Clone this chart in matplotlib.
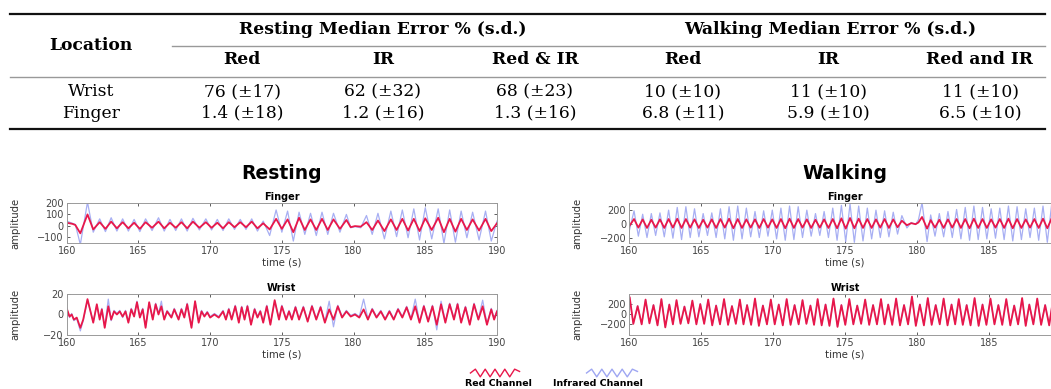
import matplotlib
matplotlib.use("Agg")
import matplotlib.pyplot as plt
from matplotlib.lines import Line2D

# ---------------- table data ----------------
table_groups = ["Resting Median Error % (s.d.)", "Walking Median Error % (s.d.)"]
table_cols = ["Red", "IR", "Red & IR", "Red", "IR", "Red and IR"]
table_rows = ["Wrist", "Finger"]
wrist_vals = ["76 (±17)", "62 (±32)", "68 (±23)", "10 (±10)", "11 (±10)", "11 (±10)"]
finger_vals = ["1.4 (±18)", "1.2 (±16)", "1.3 (±16)", "6.8 (±11)", "5.9 (±10)", "6.5 (±10)"]

# ---------------- signal data (extrema) ----------------
# Resting, finger
t_rf = [160.0, 160.4, 160.6, 160.95, 161.45, 161.85, 162.3, 162.7, 163.1, 163.5, 163.9, 164.3,
        164.7, 165.1, 165.5, 165.95, 166.4, 166.8, 167.2, 167.6, 168.0, 168.4, 168.8, 169.25,
        169.7, 170.1, 170.5, 170.9, 171.3, 171.7, 172.1, 172.5, 172.9, 173.3, 173.7, 174.15,
        174.6, 175.0, 175.4, 175.8, 176.2, 176.6, 177.0, 177.4, 177.8, 178.2, 178.6, 179.05,
        179.5, 179.8, 180.1, 180.5, 180.9, 181.3, 181.7, 182.15, 182.6, 183.0, 183.4, 183.8,
        184.2, 184.6, 185.0, 185.45, 185.9, 186.3, 186.7, 187.1, 187.5, 187.9, 188.3, 188.75,
        189.2, 189.6, 190.0]
red_rf = [25, 15, 5, -70, 100, -35, 30, -30, 35, -25, 30, -25,
          25, -30, 30, -20, 35, -25, 25, -20, 30, -25, 35, -20,
          30, -20, 25, -25, 30, -15, 30, -15, 35, -25, 20, -35,
          60, -30, 55, -60, 70, -40, 55, -40, 60, -40, 55, -30,
          50, -15, -5, -10, 30, -40, 45, -50, 55, -40, 60, -45,
          60, -50, 65, -40, 70, -60, 60, -55, 60, -40, 55, -45,
          60, -50, 20]
ir_rf = [40, 20, 10, -170, 210, -60, 60, -55, 70, -50, 60, -50,
         55, -55, 60, -45, 70, -50, 55, -45, 60, -50, 65, -40,
         60, -40, 55, -45, 60, -35, 55, -35, 60, -50, 40, -90,
         140, -60, 130, -140, 120, -80, 110, -90, 120, -80, 110, -60,
         100, -20, -10, -20, 90, -80, 110, -120, 130, -100, 140, -110,
         150, -130, 160, -120, 150, -160, 140, -150, 130, -110, 120, -130,
         130, -140, 40]

# Resting, wrist
t_rw = [160.0, 160.2, 160.35, 160.5, 160.7, 160.95, 161.15, 161.45, 161.85, 162.1, 162.3, 162.45,
        162.65, 162.9, 163.1, 163.3, 163.5, 163.7, 163.9, 164.1, 164.3, 164.5, 164.7, 164.9,
        165.1, 165.3, 165.5, 165.75, 166.0, 166.2, 166.4, 166.6, 166.8, 167.0, 167.3, 167.5,
        167.8, 168.0, 168.2, 168.4, 168.7, 168.95, 169.2, 169.4, 169.6, 169.8, 170.0, 170.3,
        170.6, 170.9, 171.1, 171.3, 171.5, 171.75, 172.0, 172.2, 172.4, 172.6, 172.85, 173.1,
        173.3, 173.5, 173.7, 173.95, 174.2, 174.5, 174.8, 175.0, 175.3, 175.5, 175.7, 175.95,
        176.2, 176.5, 176.8, 177.1, 177.4, 177.7, 178.0, 178.3, 178.6, 178.9, 179.2, 179.5,
        179.8, 180.1, 180.4, 180.7, 181.0, 181.3, 181.6, 181.9, 182.2, 182.5, 182.8, 183.1,
        183.4, 183.7, 184.0, 184.3, 184.6, 184.9, 185.2, 185.5, 185.8, 186.1, 186.4, 186.7,
        187.0, 187.25, 187.5, 187.8, 188.1, 188.4, 188.7, 189.0, 189.3, 189.6, 189.8, 190.0]
red_rw = [6, -2, 0, -5, -3, -13, -5, 15, -8, 10, -5, 5,
          -13, 8, -5, 3, 0, 3, -2, 3, -8, 5, -2, 12,
          -3, 5, -13, 12, -5, 10, 0, 8, -5, 3, -3, 5,
          -5, 5, -3, 10, -13, 13, -8, 3, -2, 2, -3, 0,
          -3, 3, -5, 5, -5, 8, -8, 7, -5, 8, -10, 5,
          -3, 3, -8, 8, -10, 14, -5, 8, -5, 3, -5, 7,
          -5, 7, -7, 8, -5, 7, -8, 5, -5, 8, -3, 3,
          -2, 0, -3, 5, -5, 5, -3, 3, -5, 3, -5, 5,
          -3, 7, -5, 8, -8, 8, -7, 8, -10, 10, -8, 10,
          -5, 10, -8, 7, -10, 10, -5, 8, -10, 5, -5, 3]
ir_rw = [6, -3, 1, -6, -4, -16, -6, 14, -7, 9, -4, 6,
         -12, 15, -6, 4, 1, 4, -3, 4, -7, 6, -1, 13,
         -2, 6, -12, 11, -4, 11, 1, 13, -4, 4, -2, 6,
         -4, 6, -2, 11, -12, 12, -7, 4, -1, 3, -2, 1,
         -2, 4, -4, 6, -4, 9, -7, 8, -4, 9, -9, 6,
         -2, 4, -7, 9, -9, 13, -4, 9, -4, 4, -4, 8,
         -4, 8, -6, 9, -4, 8, -7, 13, -12, 9, -2, 4,
         -1, 1, -2, 15, -4, 6, -2, 4, -4, 4, -4, 6,
         -2, 8, -4, 15, -7, 9, -6, 9, -15, 13, -7, 11,
         -4, 11, -7, 8, -9, 11, -4, 14, -9, 6, -4, 4]

# Walking, finger
t_wf = [160.0, 160.35, 160.65, 160.95, 161.25, 161.55, 161.85, 162.15, 162.45, 162.75, 163.05, 163.35,
        163.65, 163.95, 164.25, 164.55, 164.85, 165.15, 165.45, 165.75, 166.05, 166.35, 166.65, 166.95,
        167.25, 167.55, 167.85, 168.15, 168.45, 168.75, 169.05, 169.35, 169.65, 169.95, 170.25, 170.55,
        170.85, 171.15, 171.45, 171.75, 172.05, 172.35, 172.65, 172.95, 173.25, 173.55, 173.85, 174.15,
        174.45, 174.75, 175.05, 175.35, 175.65, 175.95, 176.25, 176.55, 176.85, 177.15, 177.45, 177.75,
        178.05, 178.35, 178.65, 178.95, 179.3, 179.6, 179.9, 180.1, 180.35, 180.7, 180.95, 181.25,
        181.55, 181.85, 182.15, 182.45, 182.75, 183.05, 183.35, 183.65, 183.95, 184.25, 184.55, 184.85,
        185.15, 185.45, 185.75, 186.05, 186.35, 186.65, 186.95, 187.25, 187.55, 187.85, 188.15, 188.45,
        188.75, 189.05, 189.35, 189.65, 189.95]
red_wf = [-40, 70, -55, 65, -60, 60, -55, 65, -60, 70, -55, 75,
          -60, 70, -55, 65, -60, 60, -55, 65, -60, 70, -55, 75,
          -65, 70, -60, 65, -55, 65, -60, 70, -55, 65, -60, 70,
          -65, 75, -60, 70, -55, 65, -60, 60, -55, 65, -60, 70,
          -65, 80, -70, 85, -65, 75, -60, 70, -60, 65, -55, 70,
          -60, 65, -50, 45, -20, 10, -5, 20, 100, -70, 55, -55,
          60, -60, 65, -55, 70, -60, 70, -65, 75, -60, 70, -60,
          65, -55, 70, -60, 75, -65, 70, -60, 65, -55, 70, -60,
          75, -65, 80, -60, 70]
ir_wf = [-120, 190, -180, 140, -200, 150, -170, 160, -190, 200, -210, 240,
         -230, 250, -200, 220, -190, 150, -170, 160, -200, 220, -220, 250,
         -240, 260, -220, 230, -190, 180, -200, 190, -180, 200, -220, 230,
         -240, 260, -230, 250, -200, 200, -180, 150, -170, 180, -200, 230,
         -240, 270, -260, 290, -270, 260, -250, 230, -220, 200, -200, 190,
         -190, 170, -150, 120, -60, 20, -10, 60, 310, -260, 130, -180,
         150, -190, 180, -200, 210, -220, 240, -240, 260, -230, 240, -220,
         220, -210, 230, -230, 260, -250, 250, -230, 220, -200, 230, -240,
         260, -270, 280, -250, 240]

# Walking, wrist
t_ww = [160.05, 160.3, 160.6, 160.88, 161.15, 161.42, 161.7, 161.98, 162.25, 162.52, 162.8, 163.05,
        163.3, 163.58, 163.85, 164.12, 164.4, 164.68, 164.95, 165.22, 165.5, 165.78, 166.05, 166.32,
        166.6, 166.88, 167.15, 167.42, 167.7, 167.95, 168.2, 168.48, 168.75, 169.02, 169.3, 169.58,
        169.85, 170.12, 170.4, 170.68, 170.95, 171.22, 171.5, 171.78, 172.05, 172.32, 172.6, 172.85,
        173.1, 173.38, 173.65, 173.92, 174.2, 174.48, 174.75, 175.02, 175.3, 175.58, 175.85, 176.12,
        176.4, 176.68, 176.95, 177.22, 177.5, 177.75, 178.0, 178.28, 178.55, 178.82, 179.1, 179.38,
        179.65, 179.92, 180.2, 180.48, 180.75, 181.02, 181.3, 181.58, 181.85, 182.12, 182.4, 182.65,
        182.9, 183.18, 183.45, 183.72, 184.0, 184.28, 184.55, 184.82, 185.1, 185.38, 185.65, 185.92,
        186.2, 186.48, 186.75, 187.02, 187.3, 187.55, 187.8, 188.08, 188.35, 188.62, 188.9, 189.18,
        189.45, 189.72, 190.0]
red_ww = [330, -190, 160, -200, 290, -180, 180, -220, 300, -260, 190, -200,
          280, -190, 150, -180, 270, -200, 200, -190, 290, -220, 170, -200,
          300, -210, 160, -190, 290, -200, 180, -210, 310, -230, 170, -200,
          290, -200, 190, -220, 300, -210, 180, -200, 280, -190, 170, -210,
          300, -220, 190, -230, 310, -250, 180, -210, 300, -200, 170, -190,
          290, -210, 180, -200, 300, -200, 190, -210, 310, -220, 180, -200,
          350, -230, 190, -220, 320, -210, 180, -200, 310, -220, 190, -200,
          300, -210, 180, -220, 320, -230, 190, -210, 310, -200, 180, -210,
          300, -220, 170, -200, 320, -230, 190, -200, 310, -210, 180, -220,
          300, -200, 280]
ir_ww = [320, -180, 170, -190, 280, -170, 190, -210, 290, -250, 200, -190,
         270, -180, 160, -170, 260, -190, 210, -180, 280, -210, 180, -190,
         290, -200, 170, -180, 280, -190, 190, -200, 300, -220, 180, -190,
         280, -190, 200, -210, 290, -200, 190, -190, 270, -180, 180, -200,
         290, -210, 200, -220, 300, -240, 190, -200, 290, -190, 180, -180,
         280, -200, 190, -190, 290, -190, 200, -200, 300, -210, 190, -190,
         340, -220, 200, -210, 310, -200, 190, -190, 300, -210, 200, -190,
         290, -200, 190, -210, 310, -220, 200, -200, 300, -190, 190, -200,
         290, -210, 180, -190, 310, -220, 200, -190, 300, -200, 190, -210,
         290, -190, 270]

x_ticks = [160, 165, 170, 175, 180, 185, 190]
legend_wave = [0, 1, -1, 1, -1, 1, -1, 1, -1, 1, 0.4]

RED = "#e8174a"
IR = "#9ea6f2"

W, H = 1051, 389
fig = plt.figure(figsize=(W / 100, H / 100), dpi=100)
fig.patch.set_facecolor("white")

def fx(px):
    return px / W

def fy(py):
    return 1 - py / H

# ---------------- table ----------------
serif = "DejaVu Serif"
tsize = 12.3
def hline(x0, x1, y, lw, color):
    fig.add_artist(Line2D([fx(x0), fx(x1)], [fy(y), fy(y)], lw=lw, color=color,
                          transform=fig.transFigure))

hline(10, 1045, 13.5, 1.6, "#111111")
hline(172, 1045, 45.5, 1.0, "#999999")
hline(10, 1045, 77, 1.0, "#999999")
hline(10, 1045, 128.5, 1.6, "#111111")

group_x = [383, 830]
col_x = [242, 383, 535, 683, 828, 980]
for gx, g in zip(group_x, table_groups):
    fig.text(fx(gx), fy(30), g, ha="center", va="center", fontsize=tsize,
             fontweight="bold", family=serif)
fig.text(fx(91), fy(46), "Location", ha="center", va="center", fontsize=tsize,
         fontweight="bold", family=serif)
for cx, c in zip(col_x, table_cols):
    fig.text(fx(cx), fy(60), c, ha="center", va="center", fontsize=tsize,
             fontweight="bold", family=serif)
for ry, rname, vals in zip([92, 113], table_rows, [wrist_vals, finger_vals]):
    fig.text(fx(91), fy(ry), rname, ha="center", va="center", fontsize=tsize, family=serif)
    for cx, v in zip(col_x, vals):
        fig.text(fx(cx), fy(ry), v, ha="center", va="center", fontsize=tsize, family=serif)

# ---------------- signal panels ----------------
sans = "DejaVu Sans"
def panel(left, top, bottom, right, t, red, ir, ylim, yticks, title, ylab_px):
    ax = fig.add_axes([fx(left), fy(bottom), fx(right - left), (bottom - top) / H])
    n = min(len(t), len(red), len(ir))
    ax.plot(t[:n], ir[:n], color=IR, lw=0.9, alpha=0.9)
    ax.plot(t[:n], red[:n], color=RED, lw=1.3)
    ax.set_xlim(160, 190)
    ax.set_ylim(*ylim)
    ax.set_xticks(x_ticks)
    ax.set_yticks(yticks)
    ax.tick_params(direction="in", length=2.5, width=0.6, labelsize=7,
                   colors="#444444", top=True, right=True, pad=2)
    for lab in ax.get_xticklabels() + ax.get_yticklabels():
        lab.set_family(sans)
    for s in ax.spines.values():
        s.set_color("#9a9a9a")
        s.set_linewidth(0.7)
    ax.set_title(title, fontsize=7, fontweight="bold", family=sans, pad=2.5)
    ax.set_xlabel("time (s)", fontsize=7.3, family=sans, labelpad=1, color="#333333")
    ax.set_ylabel("amplitude", fontsize=7.3, family=sans, color="#333333")
    ax.yaxis.set_label_coords((ylab_px - left) / (right - left), 0.5)
    return ax

panel(66.7, 203.3, 243.3, 497, t_rf, red_rf, ir_rf, (-160, 200), [-100, 0, 100, 200], "Finger", 20)
panel(66.7, 294, 335, 497, t_rw, red_rw, ir_rw, (-20, 20), [-20, 0, 20], "Wrist", 20)
panel(629, 203.3, 243, 1061, t_wf, red_wf, ir_wf, (-280, 300), [-200, 0, 200], "Finger", 582)
panel(629, 294, 335, 1061, t_ww, red_ww, ir_ww, (-410, 400), [-200, 0, 200], "Wrist", 582)

fig.text(fx(282), fy(173), "Resting", ha="center", va="center", fontsize=13.5,
         fontweight="bold", family=sans)
fig.text(fx(845), fy(173), "Walking", ha="center", va="center", fontsize=13.5,
         fontweight="bold", family=sans)

# ---------------- legend ----------------
for x0, x1, col, label, lx in [(468, 522, RED, "Red Channel", 498),
                                (584, 640, IR, "Infrared Channel", 598)]:
    lax = fig.add_axes([fx(x0), fy(378), fx(x1 - x0), 10 / H])
    lax.plot(range(len(legend_wave)), legend_wave, color=col, lw=1.0)
    lax.set_ylim(-1.3, 1.3)
    lax.axis("off")
    fig.text(fx(lx), fy(383), label, ha="center", va="center", fontsize=6.8,
             fontweight="bold", family=sans)

fig.savefig("out.png", dpi=100)
